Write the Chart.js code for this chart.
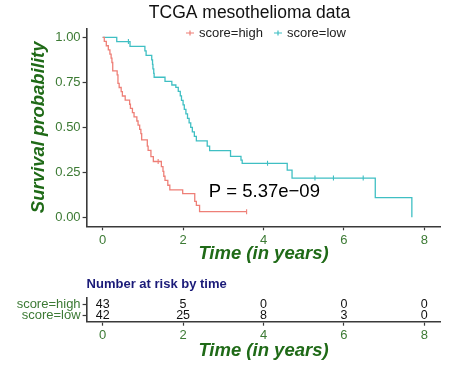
<!DOCTYPE html>
<html>
<head>
<meta charset="utf-8">
<script src="https://cdn.jsdelivr.net/npm/chart.js@4.4.0/dist/chart.umd.min.js"></script>
<style>
  html, body { margin: 0; padding: 0; background: #fff; }
  #wrap { position: relative; width: 474px; height: 388px; }
  #surv { position: absolute; left: 0; top: 0; }
  #risk { position: absolute; left: 0; top: 270px; }
</style>
</head>
<body>
<div id="wrap">
  <canvas id="surv" width="474" height="270"></canvas>
  <canvas id="risk" width="474" height="118"></canvas>
</div>
<script>
// ---- data ----
var groups = ['score=high', 'score=low'];

var highTime = [0, 0.04, 0.09, 0.14, 0.18, 0.21, 0.23, 0.25, 0.36, 0.38, 0.41, 0.46, 0.49, 0.56, 0.67, 0.69,
                0.74, 0.78, 0.85, 0.88, 0.92, 0.95, 0.97, 1.11, 1.13, 1.20, 1.26, 1.46, 1.50, 1.52, 1.55, 1.62,
                1.67, 1.99, 2.29, 2.33, 2.41, 3.58];
var highSurv = [1, 0.977, 0.953, 0.930, 0.907, 0.884, 0.860, 0.814, 0.791, 0.744, 0.721, 0.698, 0.674, 0.651, 0.628, 0.605,
                0.581, 0.558, 0.535, 0.512, 0.488, 0.465, 0.430, 0.395, 0.372, 0.337, 0.310, 0.282, 0.255, 0.228, 0.205, 0.178,
                0.152, 0.132, 0.088, 0.066, 0.031, 0.031];
var highCensorTime = [1.38, 3.58];
var highCensorSurv = [0.310, 0.031];

var lowTime = [0, 0.35, 0.68, 1.05, 1.08, 1.22, 1.24, 1.25, 1.27, 1.28, 1.55, 1.72, 1.82, 1.88, 1.93, 1.96,
               2.00, 2.03, 2.07, 2.11, 2.15, 2.19, 2.23, 2.28, 2.33, 2.60, 2.66, 3.18, 3.44, 3.47, 4.59, 4.71,
               6.78, 7.69];
var lowSurv = [1, 0.976, 0.950, 0.925, 0.900, 0.875, 0.850, 0.825, 0.800, 0.778, 0.755, 0.735, 0.722, 0.700, 0.675, 0.650,
               0.625, 0.600, 0.575, 0.550, 0.525, 0.500, 0.475, 0.450, 0.425, 0.395, 0.370, 0.338, 0.318, 0.300, 0.262, 0.218,
               0.109, 0];
var lowCensorTime = [0.64, 4.10, 5.28, 5.74, 6.48];
var lowCensorSurv = [0.976, 0.300, 0.218, 0.218, 0.218];

var xTicks = [0, 2, 4, 6, 8];
var yTicks = [0, 0.25, 0.5, 0.75, 1];
var pValueText = 'P = 5.37e\u221209';
var pValueAt = [2.64, 0.14];

var riskTimes = [0, 2, 4, 6, 8];
var riskHigh = [43, 5, 0, 0, 0];
var riskLow = [42, 25, 8, 3, 0];

// ---- styles ----
var FONT = "'Liberation Sans', Arial, Helvetica, sans-serif";
var colors = ['#ee7f77', '#3fbfc3'];
var axisCol = '#3a3a3a';
var tickCol = '#3c7a34';
var titleCol = '#1f6a17';

function pts(ts, ss) {
  return ts.map(function (t, i) { return { x: t, y: ss[i] }; });
}

function xScaleOpts(height, titlePad) {
  return {
    type: 'linear', min: -0.4, max: 8.4,
    afterBuildTicks: function (s) { s.ticks = xTicks.map(function (v) { return { value: v }; }); },
    afterFit: function (s) { s.height = height; },
    ticks: { color: tickCol, font: { family: FONT, size: 13 }, padding: 2, maxRotation: 0,
             callback: function (v) { return String(v); } },
    grid: { drawOnChartArea: false, drawTicks: true, tickLength: 4, color: axisCol, tickWidth: 1.2 },
    border: { display: true, color: axisCol, width: 1.6 },
    title: { display: true, text: 'Time (in years)', color: titleCol,
             font: { family: FONT, size: 18.5, weight: 'bold', style: 'italic', lineHeight: 1 },
             padding: { top: 0, bottom: titlePad } }
  };
}

// ---- survival curves ----
var survPlugin = {
  id: 'survText',
  afterDraw: function (chart) {
    var ctx = chart.ctx;
    ctx.save();
    ctx.fillStyle = '#111';
    ctx.font = '17.5px ' + FONT;
    ctx.textAlign = 'center';
    ctx.textBaseline = 'middle';
    ctx.fillText('TCGA mesothelioma data', 249.5, 13);

    // legend
    var legendX = [190, 278];
    ctx.font = '13px ' + FONT;
    ctx.textAlign = 'left';
    groups.forEach(function (g, i) {
      var x = legendX[i], y = 33;
      ctx.strokeStyle = colors[i];
      ctx.lineWidth = 1.2;
      ctx.beginPath();
      ctx.moveTo(x - 4, y); ctx.lineTo(x + 4, y);
      ctx.moveTo(x, y - 2.5); ctx.lineTo(x, y + 2.5);
      ctx.stroke();
      ctx.fillStyle = '#222';
      ctx.fillText(g, x + 9, y + 0.5);
    });

    // p value
    var xs = chart.scales.x, ys = chart.scales.y;
    ctx.fillStyle = '#000';
    ctx.font = '18.5px ' + FONT;
    ctx.fillText(pValueText, xs.getPixelForValue(pValueAt[0]), ys.getPixelForValue(pValueAt[1]));
    ctx.restore();
  }
};

new Chart(document.getElementById('surv'), {
  type: 'line',
  data: {
    datasets: [
      { label: groups[0], data: pts(highTime, highSurv), borderColor: colors[0], borderWidth: 1.3,
        stepped: 'before', pointRadius: 0, fill: false },
      { label: groups[1], data: pts(lowTime, lowSurv), borderColor: colors[1], borderWidth: 1.3,
        stepped: 'before', pointRadius: 0, fill: false },
      { type: 'scatter', data: pts(highCensorTime, highCensorSurv), pointStyle: 'line', rotation: 90,
        pointRadius: 2.5, borderColor: colors[0], borderWidth: 1.1, showLine: false },
      { type: 'scatter', data: pts(lowCensorTime, lowCensorSurv), pointStyle: 'line', rotation: 90,
        pointRadius: 2.5, borderColor: colors[1], borderWidth: 1.1, showLine: false }
    ]
  },
  options: {
    responsive: false,
    animation: false,
    layout: { padding: { top: 28.3, right: 33.6, left: 0, bottom: 0 } },
    plugins: { legend: { display: false }, tooltip: { enabled: false } },
    scales: {
      x: xScaleOpts(43.7, 6.5),
      y: {
        type: 'linear', min: -0.05, max: 1.05,
        afterBuildTicks: function (s) { s.ticks = yTicks.map(function (v) { return { value: v }; }); },
        afterFit: function (s) { s.width = 86.6; },
        ticks: { color: tickCol, font: { family: FONT, size: 13 }, padding: 2,
                 callback: function (v) { return v.toFixed(2); } },
        grid: { drawOnChartArea: false, drawTicks: true, tickLength: 4, color: axisCol, tickWidth: 1.2 },
        border: { display: true, color: axisCol, width: 1.6 },
        title: { display: true, text: 'Survival probability', color: titleCol,
                 font: { family: FONT, size: 18.5, weight: 'bold', style: 'italic', lineHeight: 1 },
                 padding: { top: 30, bottom: 0 } }
      }
    }
  },
  plugins: [survPlugin]
});

// ---- number at risk table ----
var riskPlugin = {
  id: 'riskText',
  afterDatasetsDraw: function (chart) {
    var ctx = chart.ctx;
    ctx.save();
    ctx.fillStyle = '#1a1a78';
    ctx.font = 'bold 13px ' + FONT;
    ctx.textAlign = 'left';
    ctx.textBaseline = 'middle';
    ctx.fillText('Number at risk by time', 86.6, 14);

    ctx.fillStyle = '#111';
    ctx.font = '12.5px ' + FONT;
    ctx.textAlign = 'center';
    chart.data.datasets.forEach(function (ds, i) {
      var meta = chart.getDatasetMeta(i);
      meta.data.forEach(function (el, j) {
        ctx.fillText(String(ds.counts[j]), el.x, el.y);
      });
    });
    ctx.restore();
  }
};

new Chart(document.getElementById('risk'), {
  type: 'scatter',
  data: {
    datasets: [
      { label: groups[0], counts: riskHigh, data: riskTimes.map(function (t) { return { x: t, y: 2 }; }),
        pointRadius: 0 },
      { label: groups[1], counts: riskLow, data: riskTimes.map(function (t) { return { x: t, y: 1 }; }),
        pointRadius: 0 }
    ]
  },
  options: {
    responsive: false,
    animation: false,
    clip: false,
    layout: { padding: { top: 28, right: 33.6, left: 0, bottom: 0 } },
    plugins: { legend: { display: false }, tooltip: { enabled: false } },
    scales: {
      x: xScaleOpts(66.3, 27.75),
      y: {
        type: 'linear', min: 0.4, max: 2.6,
        afterBuildTicks: function (s) { s.ticks = [{ value: 1 }, { value: 2 }]; },
        afterFit: function (s) { s.width = 86.6; },
        ticks: { color: tickCol, font: { family: FONT, size: 13 }, padding: 2,
                 callback: function (v) { return v === 2 ? groups[0] : groups[1]; } },
        grid: { drawOnChartArea: false, drawTicks: true, tickLength: 4, color: axisCol, tickWidth: 1.2 },
        border: { display: true, color: axisCol, width: 1.6 }
      }
    }
  },
  plugins: [riskPlugin]
});
</script>
</body>
</html>
